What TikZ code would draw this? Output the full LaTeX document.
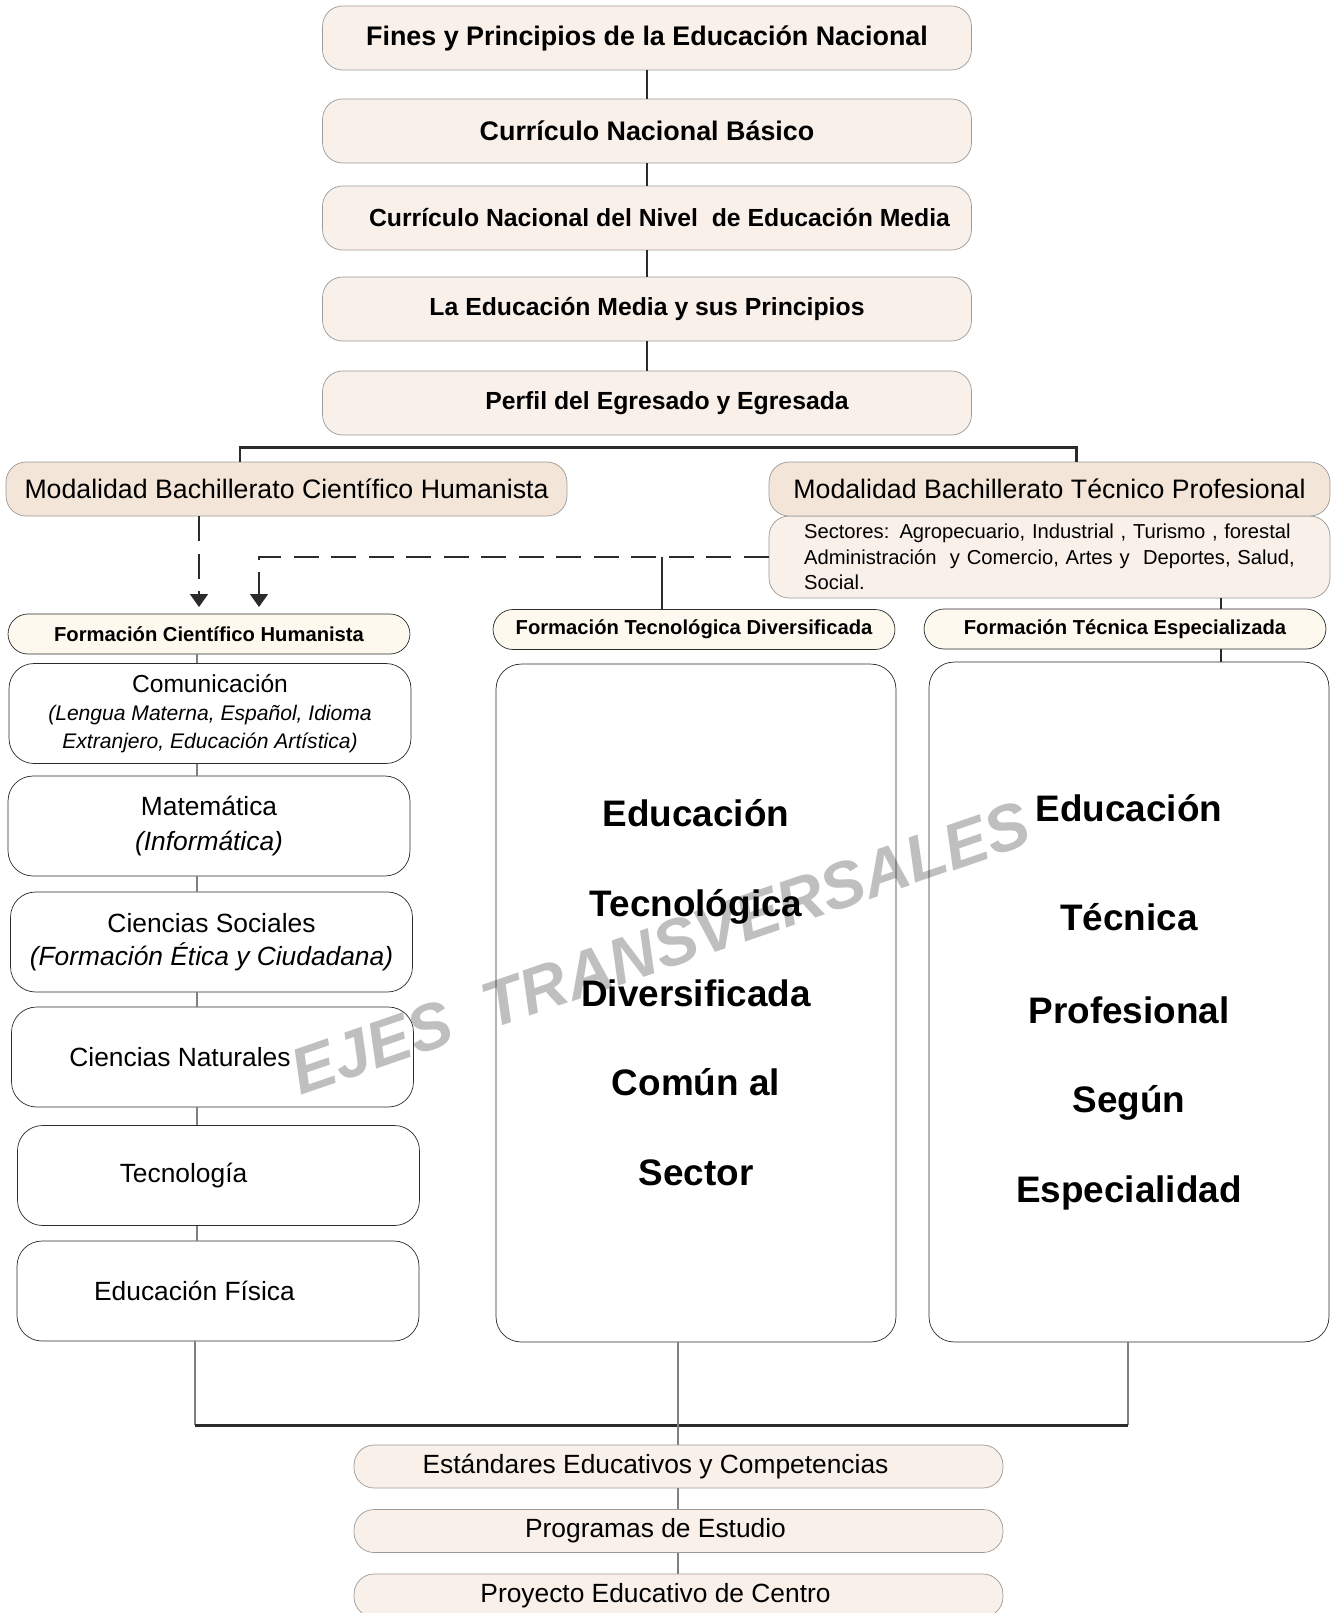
\documentclass[tikz,border=0pt]{standalone}
\usepackage{fontspec}
\setmainfont{Liberation Sans}
\usetikzlibrary{positioning,arrows.meta}
\definecolor{peach}{HTML}{FAF0EA}
\definecolor{sand}{HTML}{F3E6D8}
\definecolor{cream}{HTML}{FEF9EE}
\definecolor{edge}{HTML}{9A9A9A}
\definecolor{ink}{HTML}{2B2B2B}

\begin{document}
\begin{tikzpicture}[x=0.02cm,y=-0.02cm,
	topbox/.style={draw=edge, fill=peach, rounded corners=0.4cm, minimum width=12.98cm, minimum height=1.28cm, font=\fontsize{14.1}{18}\selectfont\bfseries},
	modbox/.style={draw=edge, fill=sand, rounded corners=0.4cm, minimum width=11.22cm, minimum height=1.08cm, font=\fontsize{15.2}{18}\selectfont},
	sectbox/.style={draw=edge, fill=peach, rounded corners=0.4cm, minimum width=11.22cm, minimum height=1.64cm, text width=9.82cm, inner xsep=0.7cm, align=left, font=\fontsize{11.5}{14.6}\selectfont},
	formbox/.style={draw=ink, fill=cream, rounded corners=0.4cm, minimum width=8.04cm, minimum height=0.8cm, font=\fontsize{11.5}{14}\selectfont\bfseries},
	subjbox/.style={draw=ink, fill=white, rounded corners=0.5cm, minimum width=8.04cm, minimum height=2cm, align=center, font=\fontsize{15}{20}\selectfont},
	bigbox/.style={draw=ink, fill=white, rounded corners=0.5cm, minimum width=8cm, minimum height=13.56cm, align=center, font=\fontsize{21}{51}\selectfont\bfseries},
	basebox/.style={draw=edge, fill=peach, rounded corners=0.4cm, minimum width=12.98cm, minimum height=0.86cm, font=\fontsize{15}{18}\selectfont, execute at end node={\hspace*{0.92cm}}},
	conn/.style={draw=ink, line width=1.1pt},
	thinconn/.style={draw=gray, line width=0.6pt},
	bar/.style={draw=ink, line width=1.7pt},
	dashline/.style={draw=ink, line width=0.9pt, dash pattern=on 0.5cm off 0.25cm, -{Triangle[width=0.36cm,length=0.26cm]}},
	watermark/.style={text=black!25, font=\fontsize{37}{40}\selectfont\bfseries\itshape, rotate=19}]
	\useasboundingbox (0,0) rectangle (1332,1613);

	\node[topbox, font=\fontsize{15.3}{18}\selectfont\bfseries] (fines) at (647,38) {Fines y Principios de la Educación Nacional};
	\node[topbox, font=\fontsize{15.3}{18}\selectfont\bfseries] (cnb) at (647,131) {Currículo Nacional Básico};
	\node[topbox] (cnm) at (647,218) {\hspace*{0.5cm}Currículo Nacional del Nivel\ \ de Educación Media};
	\node[topbox] (media) at (647,309) {La Educación Media y sus Principios};
	\node[topbox] (perfil) at (647,403) {\hspace*{0.8cm}Perfil del Egresado y Egresada};

	\node[sectbox] (sect) at (1049.5,557) {Sectores: Agropecuario, Industrial , Turismo , forestal\\Administración\ \ y Comercio, Artes y\ \ Deportes, Salud,\\Social.};
	\node[modbox] (mch) at (286.5,489) {Modalidad Bachillerato Científico Humanista};
	\node[modbox] (mtp) at (1049.5,489) {Modalidad Bachillerato Técnico Profesional};

	\node[formbox] (fch) at (209,634) {Formación Científico Humanista};
	\node[formbox] (ftd) at (694,629.5) {Formación Tecnológica Diversificada};
	\node[formbox] (fte) at (1125,629) {Formación Técnica Especializada};

	\node[subjbox, font=\fontsize{12}{15.8}\selectfont] (com) at (210,713.5) {{\fontsize{14}{15.8}\selectfont Comunicación}\\\textit{(Lengua Materna, Español, Idioma}\\\textit{Extranjero, Educación Artística)}};
	\node[subjbox, font=\fontsize{15}{20.4}\selectfont] (mat) at (209,826) {Matemática\\\textit{(Informática)}};
	\node[subjbox, font=\fontsize{15}{18.7}\selectfont] (soc) at (211.5,942) {Ciencias Sociales\\\textit{(Formación Ética y Ciudadana)}};
	\node[subjbox] (nat) at (212.5,1057) {Ciencias Naturales\hspace*{1.3cm}};
	\node[subjbox] (tec) at (218.5,1175.5) {Tecnología\hspace*{1.4cm}};
	\node[subjbox] (efi) at (218,1291) {Educación Física\hspace*{0.94cm}};

	\node[bigbox] (tdiv) at (696,1003) {Educación\\Tecnológica\\Diversificada\\Común al\\Sector\\[-39pt]\mbox{}};
	\node[bigbox, minimum height=13.6cm] (tesp) at (1129,1002) {Educación\\[11pt]Técnica\\[2pt]Profesional\\Según\\Especialidad};

	\node[basebox] (est) at (678.5,1466.5) {Estándares Educativos y Competencias};
	\node[basebox] (prog) at (678.5,1531) {Programas de Estudio};
	\node[basebox] (proy) at (678.5,1595.5) {Proyecto Educativo de Centro};

	\coordinate (barL) at (240,447);
	\coordinate (barR) at (1076,447);
	\coordinate (arrA) at (199,607);
	\coordinate (arrB) at (259,607);
	\coordinate (jn) at (662,0);
	\coordinate (xr) at (1221,0);
	\coordinate (xl) at (197,0);
	\coordinate (xm) at (678,0);
	\coordinate (botL) at (195,1425);
	\coordinate (botR) at (1128,1425);

	\foreach \a/\b in {fines/cnb, cnb/cnm, cnm/media, media/perfil}
		\draw[conn] (\a) -- (\b);
	\draw[bar] (mch.north -| barL) -- (barL) -- (barR) -- (mtp.north -| barR);
	\draw[dashline] (mch.south -| arrA) -- (arrA);
	\draw[dashline] (sect.west) -| (arrB);
	\draw[conn] (sect.west -| jn) -- (ftd.north -| jn);
	\draw[conn] (sect.south -| xr) -- (fte.north -| xr);
	\draw[conn] (fte.south -| xr) -- (tesp.north -| xr);
	\foreach \a/\b in {fch/com, com/mat, mat/soc, soc/nat, nat/tec, tec/efi}
		\draw[thinconn] (\a.south -| xl) -- (\b.north -| xl);
	\draw[thinconn] (efi.south -| botL) -- (botL);
	\draw[thinconn] (tesp.south -| botR) -- (botR);
	\draw[bar] (botL) -- (botR);
	\draw[thinconn] (tdiv.south -| xm) -- (est.north -| xm);
	\draw[thinconn] (est.south -| xm) -- (prog.north -| xm);
	\draw[thinconn] (prog.south -| xm) -- (proy.north -| xm);

	\begin{scope}[blend mode=multiply]
		\node[watermark] (ejes) at (660,948) {EJES\ \ TRANSVERSALES};
	\end{scope}
\end{tikzpicture}
\end{document}
